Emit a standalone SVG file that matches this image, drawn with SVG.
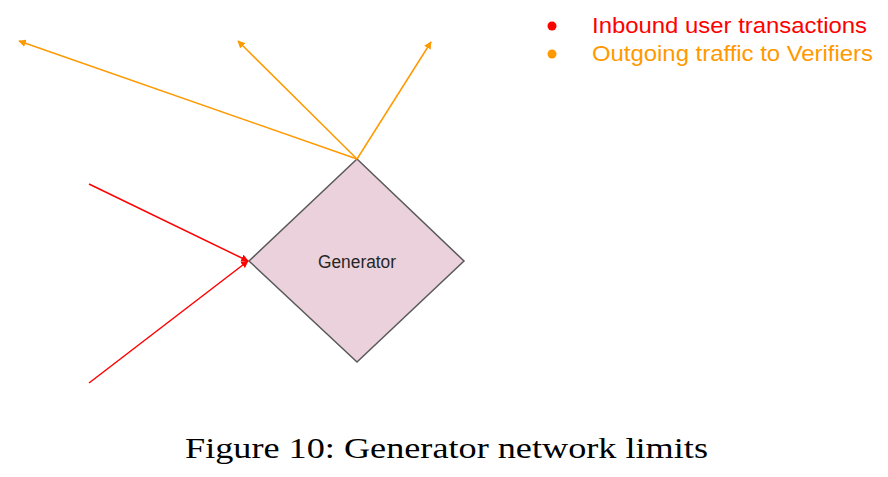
<svg xmlns="http://www.w3.org/2000/svg" width="888" height="477" viewBox="0 0 888 477">
<defs>
<style>
.out{stroke:#ff9900;stroke-width:1.5;fill:none}
.in{stroke:#ff0000;stroke-width:1.5;fill:none}
.sans{font-family:"Liberation Sans",Arial,sans-serif}
.serif{font-family:"Liberation Serif","Times New Roman",serif}
</style>
<marker id="ao" viewBox="0 0 10 10" refX="9" refY="5" markerWidth="5" markerHeight="5" orient="auto" markerUnits="strokeWidth">
<path d="M0,0 L10,5 L0,10 z" fill="#ff9900"/>
</marker>
<marker id="ar" viewBox="0 0 10 10" refX="9" refY="5" markerWidth="5" markerHeight="5" orient="auto" markerUnits="strokeWidth">
<path d="M0,0 L10,5 L0,10 z" fill="#ff0000"/>
</marker>
</defs>
<rect width="888" height="477" fill="#ffffff"/>
<g id="generator">
<path d="M357,159 L464,261 L357,362 L249,261 Z" fill="#ead1dc" stroke="#595959" stroke-width="1.5"/>
<text class="sans" x="357" y="268" font-size="17.5" text-anchor="middle" fill="#262626" textLength="78" lengthAdjust="spacingAndGlyphs">Generator</text>
</g>
<g id="connectors">
<line class="out" x1="357" y1="159" x2="19" y2="41" marker-end="url(#ao)"/>
<line class="out" x1="357" y1="159" x2="238" y2="41" marker-end="url(#ao)"/>
<line class="out" x1="357" y1="159" x2="431" y2="42" marker-end="url(#ao)"/>
<line class="in" x1="89" y1="184" x2="248" y2="261" marker-end="url(#ar)"/>
<line class="in" x1="89" y1="383" x2="248" y2="261" marker-end="url(#ar)"/>
</g>
<g id="legend">
<circle cx="552" cy="26" r="4.5" fill="#ff0000"/>
<text class="sans" x="592" y="33" font-size="22" fill="#ff0000" textLength="275" lengthAdjust="spacingAndGlyphs">Inbound user transactions</text>
<circle cx="552" cy="54" r="4.5" fill="#ff9900"/>
<text class="sans" x="592" y="61" font-size="22" fill="#ff9900" textLength="281" lengthAdjust="spacingAndGlyphs">Outgoing traffic to Verifiers</text>
</g>
<g id="caption">
<text class="serif" x="185" y="458" font-size="29" fill="#000000" textLength="523" lengthAdjust="spacingAndGlyphs">Figure 10: Generator network limits</text>
</g>
</svg>
